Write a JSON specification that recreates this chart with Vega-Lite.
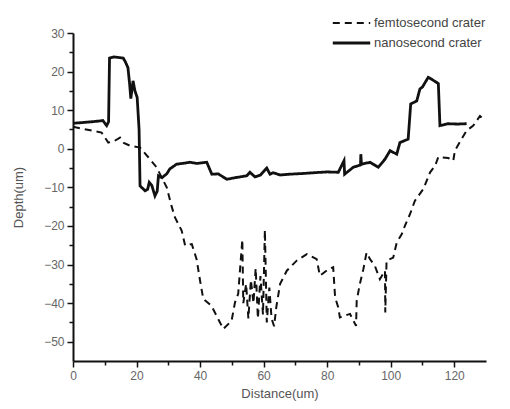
{
  "$schema": "https://vega.github.io/schema/vega-lite/v6.json",
  "autosize": {"type": "none"},
  "width": 413,
  "height": 328,
  "padding": {"left": 73, "top": 33, "right": 24, "bottom": 48},
  "background": "white",
  "config": {
    "view": {"stroke": null},
    "font": "Liberation Sans",
    "axis": {"grid": false, "domainColor": "#111", "domainWidth": 2, "tickColor": "#111", "tickWidth": 1.5, "labelColor": "#666", "labelFontSize": 12, "titleColor": "#555", "titleFontSize": 13, "titleFontWeight": "normal", "labelPadding": 3}
  },
  "data": {"values": [
    {"series":"nanosecond crater","i":1,"x":0,"y":6.6},
    {"series":"nanosecond crater","i":2,"x":3,"y":6.8},
    {"series":"nanosecond crater","i":3,"x":6,"y":7.0},
    {"series":"nanosecond crater","i":4,"x":9.4,"y":7.3},
    {"series":"nanosecond crater","i":5,"x":10.6,"y":6.0},
    {"series":"nanosecond crater","i":6,"x":11.2,"y":7},
    {"series":"nanosecond crater","i":7,"x":11.5,"y":23.5},
    {"series":"nanosecond crater","i":8,"x":13,"y":23.8},
    {"series":"nanosecond crater","i":9,"x":15.8,"y":23.5},
    {"series":"nanosecond crater","i":10,"x":16.5,"y":22.5},
    {"series":"nanosecond crater","i":11,"x":17.3,"y":21},
    {"series":"nanosecond crater","i":12,"x":17.8,"y":17},
    {"series":"nanosecond crater","i":13,"x":18.2,"y":13},
    {"series":"nanosecond crater","i":14,"x":18.9,"y":17.6},
    {"series":"nanosecond crater","i":15,"x":19.5,"y":15},
    {"series":"nanosecond crater","i":16,"x":20.2,"y":13.3},
    {"series":"nanosecond crater","i":17,"x":20.8,"y":5},
    {"series":"nanosecond crater","i":18,"x":21.1,"y":-9.6},
    {"series":"nanosecond crater","i":19,"x":22.7,"y":-10.9},
    {"series":"nanosecond crater","i":20,"x":23.5,"y":-10.5},
    {"series":"nanosecond crater","i":21,"x":24,"y":-8.7},
    {"series":"nanosecond crater","i":22,"x":24.8,"y":-9.5},
    {"series":"nanosecond crater","i":23,"x":25.8,"y":-12.2},
    {"series":"nanosecond crater","i":24,"x":26.5,"y":-11},
    {"series":"nanosecond crater","i":25,"x":26.9,"y":-7},
    {"series":"nanosecond crater","i":26,"x":28,"y":-7.5},
    {"series":"nanosecond crater","i":27,"x":29.5,"y":-6.5},
    {"series":"nanosecond crater","i":28,"x":30.5,"y":-5.2},
    {"series":"nanosecond crater","i":29,"x":32.6,"y":-4},
    {"series":"nanosecond crater","i":30,"x":34.5,"y":-3.8},
    {"series":"nanosecond crater","i":31,"x":36.8,"y":-3.5},
    {"series":"nanosecond crater","i":32,"x":39,"y":-3.8},
    {"series":"nanosecond crater","i":33,"x":42.1,"y":-3.5},
    {"series":"nanosecond crater","i":34,"x":43.7,"y":-6.6},
    {"series":"nanosecond crater","i":35,"x":45.7,"y":-6.5},
    {"series":"nanosecond crater","i":36,"x":48.4,"y":-7.9},
    {"series":"nanosecond crater","i":37,"x":51,"y":-7.5},
    {"series":"nanosecond crater","i":38,"x":54.7,"y":-7},
    {"series":"nanosecond crater","i":39,"x":55.7,"y":-6.1},
    {"series":"nanosecond crater","i":40,"x":57.3,"y":-7.3},
    {"series":"nanosecond crater","i":41,"x":59,"y":-6.8},
    {"series":"nanosecond crater","i":42,"x":61,"y":-5},
    {"series":"nanosecond crater","i":43,"x":62,"y":-6.6},
    {"series":"nanosecond crater","i":44,"x":63,"y":-6.2},
    {"series":"nanosecond crater","i":45,"x":65.2,"y":-6.8},
    {"series":"nanosecond crater","i":46,"x":68,"y":-6.6},
    {"series":"nanosecond crater","i":47,"x":72.5,"y":-6.4},
    {"series":"nanosecond crater","i":48,"x":76,"y":-6.2},
    {"series":"nanosecond crater","i":49,"x":79.9,"y":-6},
    {"series":"nanosecond crater","i":50,"x":83.5,"y":-6.1},
    {"series":"nanosecond crater","i":51,"x":85.3,"y":-3.1},
    {"series":"nanosecond crater","i":52,"x":85.5,"y":-6.6},
    {"series":"nanosecond crater","i":53,"x":88.2,"y":-4.8},
    {"series":"nanosecond crater","i":54,"x":90.5,"y":-4.2},
    {"series":"nanosecond crater","i":55,"x":90.6,"y":-1.4},
    {"series":"nanosecond crater","i":56,"x":90.8,"y":-4},
    {"series":"nanosecond crater","i":57,"x":93.5,"y":-3.5},
    {"series":"nanosecond crater","i":58,"x":96.1,"y":-4.8},
    {"series":"nanosecond crater","i":59,"x":98.2,"y":-2.7},
    {"series":"nanosecond crater","i":60,"x":99.8,"y":-0.5},
    {"series":"nanosecond crater","i":61,"x":101.9,"y":-1.4},
    {"series":"nanosecond crater","i":62,"x":102.9,"y":1.6},
    {"series":"nanosecond crater","i":63,"x":105.5,"y":2.5},
    {"series":"nanosecond crater","i":64,"x":106.3,"y":11.6},
    {"series":"nanosecond crater","i":65,"x":108.2,"y":12.4},
    {"series":"nanosecond crater","i":66,"x":109.2,"y":15.5},
    {"series":"nanosecond crater","i":67,"x":110,"y":16},
    {"series":"nanosecond crater","i":68,"x":111.8,"y":18.5},
    {"series":"nanosecond crater","i":69,"x":112.9,"y":18},
    {"series":"nanosecond crater","i":70,"x":115,"y":16.9},
    {"series":"nanosecond crater","i":71,"x":115.5,"y":6},
    {"series":"nanosecond crater","i":72,"x":118,"y":6.5},
    {"series":"nanosecond crater","i":73,"x":121,"y":6.4},
    {"series":"nanosecond crater","i":74,"x":123.9,"y":6.5},
    {"series":"femtosecond crater","i":1,"x":0,"y":5.7},
    {"series":"femtosecond crater","i":2,"x":3,"y":5.2},
    {"series":"femtosecond crater","i":3,"x":5.9,"y":4.7},
    {"series":"femtosecond crater","i":4,"x":9,"y":4.2},
    {"series":"femtosecond crater","i":5,"x":11.1,"y":1.6},
    {"series":"femtosecond crater","i":6,"x":13,"y":2},
    {"series":"femtosecond crater","i":7,"x":14.8,"y":2.9},
    {"series":"femtosecond crater","i":8,"x":16,"y":1.5},
    {"series":"femtosecond crater","i":9,"x":17.9,"y":0.8},
    {"series":"femtosecond crater","i":10,"x":21.1,"y":0.3},
    {"series":"femtosecond crater","i":11,"x":23.5,"y":-2},
    {"series":"femtosecond crater","i":12,"x":26.3,"y":-4.8},
    {"series":"femtosecond crater","i":13,"x":29.5,"y":-10},
    {"series":"femtosecond crater","i":14,"x":31,"y":-14.8},
    {"series":"femtosecond crater","i":15,"x":32.1,"y":-17.8},
    {"series":"femtosecond crater","i":16,"x":34.2,"y":-21.2},
    {"series":"femtosecond crater","i":17,"x":35.3,"y":-25.1},
    {"series":"femtosecond crater","i":18,"x":37.4,"y":-24.7},
    {"series":"femtosecond crater","i":19,"x":38.9,"y":-28.6},
    {"series":"femtosecond crater","i":20,"x":40,"y":-34.2},
    {"series":"femtosecond crater","i":21,"x":41,"y":-38.9},
    {"series":"femtosecond crater","i":22,"x":43.6,"y":-40.7},
    {"series":"femtosecond crater","i":23,"x":45.2,"y":-43.3},
    {"series":"femtosecond crater","i":24,"x":47.3,"y":-46.7},
    {"series":"femtosecond crater","i":25,"x":49.9,"y":-44.6},
    {"series":"femtosecond crater","i":26,"x":51,"y":-39.8},
    {"series":"femtosecond crater","i":27,"x":52,"y":-37.6},
    {"series":"femtosecond crater","i":28,"x":53.3,"y":-23.5},
    {"series":"femtosecond crater","i":29,"x":53.6,"y":-40},
    {"series":"femtosecond crater","i":30,"x":54.5,"y":-35},
    {"series":"femtosecond crater","i":31,"x":55.2,"y":-44},
    {"series":"femtosecond crater","i":32,"x":56,"y":-34},
    {"series":"femtosecond crater","i":33,"x":56.8,"y":-40},
    {"series":"femtosecond crater","i":34,"x":57.5,"y":-31},
    {"series":"femtosecond crater","i":35,"x":58.2,"y":-44},
    {"series":"femtosecond crater","i":36,"x":59,"y":-33},
    {"series":"femtosecond crater","i":37,"x":59.8,"y":-43},
    {"series":"femtosecond crater","i":38,"x":60.4,"y":-21},
    {"series":"femtosecond crater","i":39,"x":61,"y":-45},
    {"series":"femtosecond crater","i":40,"x":61.8,"y":-36},
    {"series":"femtosecond crater","i":41,"x":62.5,"y":-44},
    {"series":"femtosecond crater","i":42,"x":63.3,"y":-46},
    {"series":"femtosecond crater","i":43,"x":64,"y":-41},
    {"series":"femtosecond crater","i":44,"x":65.2,"y":-35},
    {"series":"femtosecond crater","i":45,"x":67.3,"y":-31.6},
    {"series":"femtosecond crater","i":46,"x":70.4,"y":-29},
    {"series":"femtosecond crater","i":47,"x":73.6,"y":-27.3},
    {"series":"femtosecond crater","i":48,"x":76.7,"y":-28.6},
    {"series":"femtosecond crater","i":49,"x":77.7,"y":-32.9},
    {"series":"femtosecond crater","i":50,"x":80.4,"y":-31.2},
    {"series":"femtosecond crater","i":51,"x":81.9,"y":-30.7},
    {"series":"femtosecond crater","i":52,"x":82.5,"y":-38.5},
    {"series":"femtosecond crater","i":53,"x":83.5,"y":-41.1},
    {"series":"femtosecond crater","i":54,"x":84,"y":-43.7},
    {"series":"femtosecond crater","i":55,"x":87.2,"y":-42.8},
    {"series":"femtosecond crater","i":56,"x":89.1,"y":-45.9},
    {"series":"femtosecond crater","i":57,"x":89.3,"y":-39.4},
    {"series":"femtosecond crater","i":58,"x":90.3,"y":-35},
    {"series":"femtosecond crater","i":59,"x":91.4,"y":-31.2},
    {"series":"femtosecond crater","i":60,"x":92.4,"y":-26.9},
    {"series":"femtosecond crater","i":61,"x":93.5,"y":-28.6},
    {"series":"femtosecond crater","i":62,"x":95,"y":-30.3},
    {"series":"femtosecond crater","i":63,"x":96.6,"y":-33.8},
    {"series":"femtosecond crater","i":64,"x":98.2,"y":-31.6},
    {"series":"femtosecond crater","i":65,"x":98.3,"y":-42.4},
    {"series":"femtosecond crater","i":66,"x":98.7,"y":-29},
    {"series":"femtosecond crater","i":67,"x":100.8,"y":-28.2},
    {"series":"femtosecond crater","i":68,"x":101.9,"y":-24.3},
    {"series":"femtosecond crater","i":69,"x":103.5,"y":-22.1},
    {"series":"femtosecond crater","i":70,"x":104.5,"y":-19.9},
    {"series":"femtosecond crater","i":71,"x":106.1,"y":-16.9},
    {"series":"femtosecond crater","i":72,"x":107.6,"y":-13.5},
    {"series":"femtosecond crater","i":73,"x":110.3,"y":-10.4},
    {"series":"femtosecond crater","i":74,"x":112.4,"y":-6.1},
    {"series":"femtosecond crater","i":75,"x":114,"y":-4.4},
    {"series":"femtosecond crater","i":76,"x":115,"y":-2.1},
    {"series":"femtosecond crater","i":77,"x":118.1,"y":-2.4},
    {"series":"femtosecond crater","i":78,"x":119.7,"y":-3.1},
    {"series":"femtosecond crater","i":79,"x":120.2,"y":-0.5},
    {"series":"femtosecond crater","i":80,"x":122.3,"y":2.5},
    {"series":"femtosecond crater","i":81,"x":123.9,"y":4.7},
    {"series":"femtosecond crater","i":82,"x":126,"y":6},
    {"series":"femtosecond crater","i":83,"x":128.1,"y":8.5},
    {"series":"femtosecond crater","i":84,"x":129.7,"y":7.3}
  ]},
  "mark": {"type": "line", "color": "#111", "strokeJoin": "miter"},
  "encoding": {
    "x": {"field": "x", "type": "quantitative", "title": "Distance(um)",
      "scale": {"domain": [0, 130], "nice": false, "zero": false},
      "axis": {"values": [0,10,20,30,40,50,60,70,80,90,100,110,120], "labelExpr": "datum.value % 20 === 0 ? datum.label : ''",
        "tickSize": {"condition": {"test": "datum.value % 20 === 0", "value": 6}, "value": 4}, "titlePadding": 6, "labelFlush": false}},
    "y": {"field": "y", "type": "quantitative", "title": "Depth(um)",
      "scale": {"domain": [-55, 30], "nice": false, "zero": false},
      "axis": {"values": [-50,-45,-40,-35,-30,-25,-20,-15,-10,-5,0,5,10,15,20,25,30], "labelExpr": "datum.value % 10 === 0 ? datum.label : ''",
        "tickSize": {"condition": {"test": "datum.value % 10 === 0", "value": 6}, "value": 4}, "titlePadding": 18, "labelFlush": false}},
    "order": {"field": "i", "type": "quantitative"},
    "strokeDash": {"field": "series", "type": "nominal",
      "scale": {"domain": ["femtosecond crater", "nanosecond crater"], "range": [[7, 5], [1, 0]]},
      "legend": {"title": null, "orient": "none", "legendX": 258, "legendY": -17, "symbolType": "stroke", "symbolSize": 1400, "clipHeight": 14, "symbolStrokeColor": "#111", "symbolStrokeWidth": 2.2, "labelFontSize": 13, "labelColor": "#444", "labelOffset": 2, "rowPadding": 6}},
    "strokeWidth": {"field": "series", "type": "nominal",
      "scale": {"domain": ["femtosecond crater", "nanosecond crater"], "range": [2, 2.8]}, "legend": null}
  }
}
